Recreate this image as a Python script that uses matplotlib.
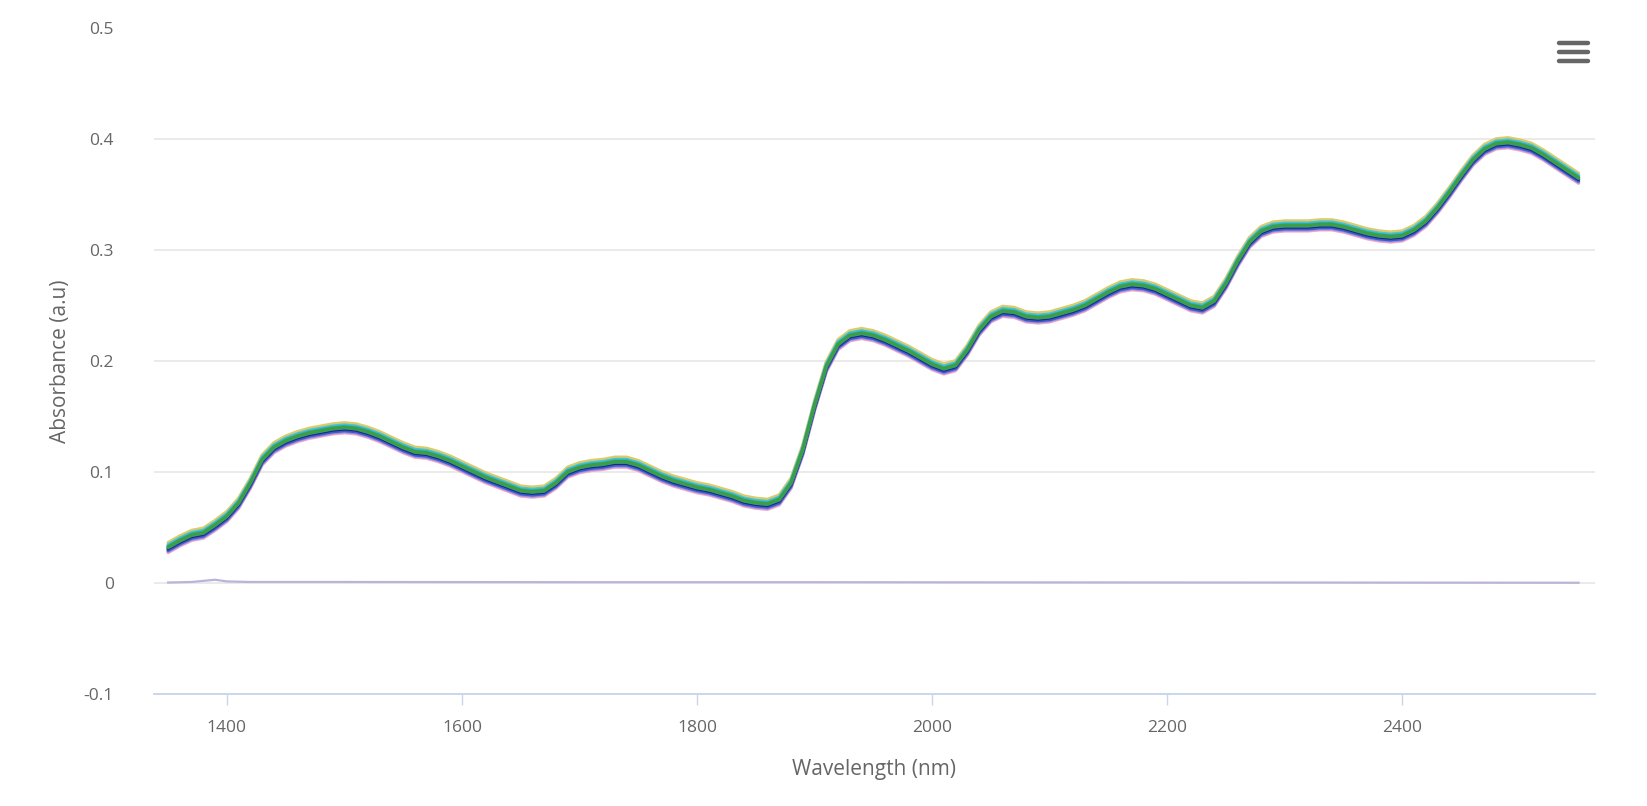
import matplotlib.pyplot as plt
from matplotlib.lines import Line2D

plt.rcParams['font.family'] = ['Open Sans', 'DejaVu Sans']

# wavelength grid (nm) and mean absorbance
wavelength = list(range(1350, 2551, 10))
absorbance = [
    0.032, 0.038, 0.043, 0.045, 0.052, 0.060, 0.072, 0.090, 0.111, 0.122,
    0.128, 0.132, 0.135, 0.137, 0.139, 0.140, 0.139, 0.136, 0.132, 0.127,
    0.122, 0.118, 0.117, 0.114, 0.110, 0.105, 0.100, 0.095, 0.091, 0.087,
    0.083, 0.082, 0.083, 0.090, 0.100, 0.104, 0.106, 0.107, 0.109, 0.109,
    0.106, 0.101, 0.096, 0.092, 0.089, 0.086, 0.084, 0.081, 0.078, 0.074,
    0.072, 0.071, 0.075, 0.090, 0.120, 0.160, 0.195, 0.215, 0.223, 0.225,
    0.223, 0.219, 0.214, 0.209, 0.203, 0.197, 0.193, 0.196, 0.210, 0.228,
    0.240, 0.245, 0.244, 0.240, 0.239, 0.240, 0.243, 0.246, 0.250, 0.256,
    0.262, 0.267, 0.269, 0.268, 0.265, 0.260, 0.255, 0.250, 0.248, 0.254,
    0.270, 0.290, 0.307, 0.317, 0.321, 0.322, 0.322, 0.322, 0.323, 0.323,
    0.321, 0.318, 0.315, 0.313, 0.312, 0.313, 0.318, 0.326, 0.338, 0.352,
    0.367, 0.381, 0.391, 0.396, 0.397, 0.395, 0.392, 0.386, 0.379, 0.372,
    0.365,
]

# blank / reference scan sitting near zero
blank_wavelength = [1350, 1370, 1380, 1390, 1400, 1420, 1500, 1700, 1900, 2100, 2300, 2550]
blank_values = [0.0005, 0.001, 0.002, 0.003, 0.0015, 0.001, 0.001, 0.0008, 0.0008, 0.0006, 0.0005, 0.0003]

# per-sample shift from the mean and colour of each replicate scan
sample_offsets = [-0.0045, 0.0045, -0.0035, 0.0025, -0.0025, 0.0012, -0.001, 0.0, 0.0004]
sample_colors = ['#f4a8c4', '#dccb6c', '#9b8fe0', '#47c3d8', '#3d5bd0',
                 '#2fb0b0', '#1c2b6e', '#2a9aa6', '#3e9e45']

fig = plt.figure(figsize=(16.47, 8.06), dpi=100)
ax = fig.add_axes([154 / 1647, 1 - 694 / 806, (1595 - 154) / 1647, (694 - 28.5) / 806])

for off, col in zip(sample_offsets, sample_colors):
    ax.plot(wavelength, [a + off for a in absorbance], color=col, lw=2.4,
            solid_capstyle='round', solid_joinstyle='round', zorder=3)

ax.plot(blank_wavelength, blank_values, color='#bdb3d9', lw=1.6, zorder=2)

ax.set_xlim(1338, 2564)
ax.set_ylim(-0.1, 0.5)
ax.set_yticks([-0.1, 0, 0.1, 0.2, 0.3, 0.4, 0.5])
ax.set_yticklabels(['-0.1', '0', '0.1', '0.2', '0.3', '0.4', '0.5'])
ax.set_xticks([1400, 1600, 1800, 2000, 2200, 2400])

ax.grid(axis='y', color='#e6e6e6', lw=1.2, zorder=0)
ax.set_axisbelow(True)
for side in ['top', 'right', 'left']:
    ax.spines[side].set_visible(False)
ax.spines['bottom'].set_color('#ccd6eb')
ax.spines['bottom'].set_linewidth(1.4)

ax.tick_params(axis='y', length=0, pad=29, labelsize=12.5, labelcolor='#666666')
ax.tick_params(axis='x', length=8, width=1, color='#ccd6eb', pad=11,
               labelsize=12.5, labelcolor='#666666')

ax.set_xlabel('Wavelength (nm)', fontsize=15, color='#666666', labelpad=16)
ax.set_ylabel('Absorbance (a.u)', fontsize=15, color='#666666', labelpad=9)

# export menu icon in the top right corner
for yy in [43, 52, 61]:
    fig.add_artist(Line2D([1559 / 1647, 1588 / 1647], [1 - yy / 806, 1 - yy / 806],
                          color='#666666', lw=3.2, solid_capstyle='round'))

fig.savefig('out.png', dpi=100, facecolor='white')
